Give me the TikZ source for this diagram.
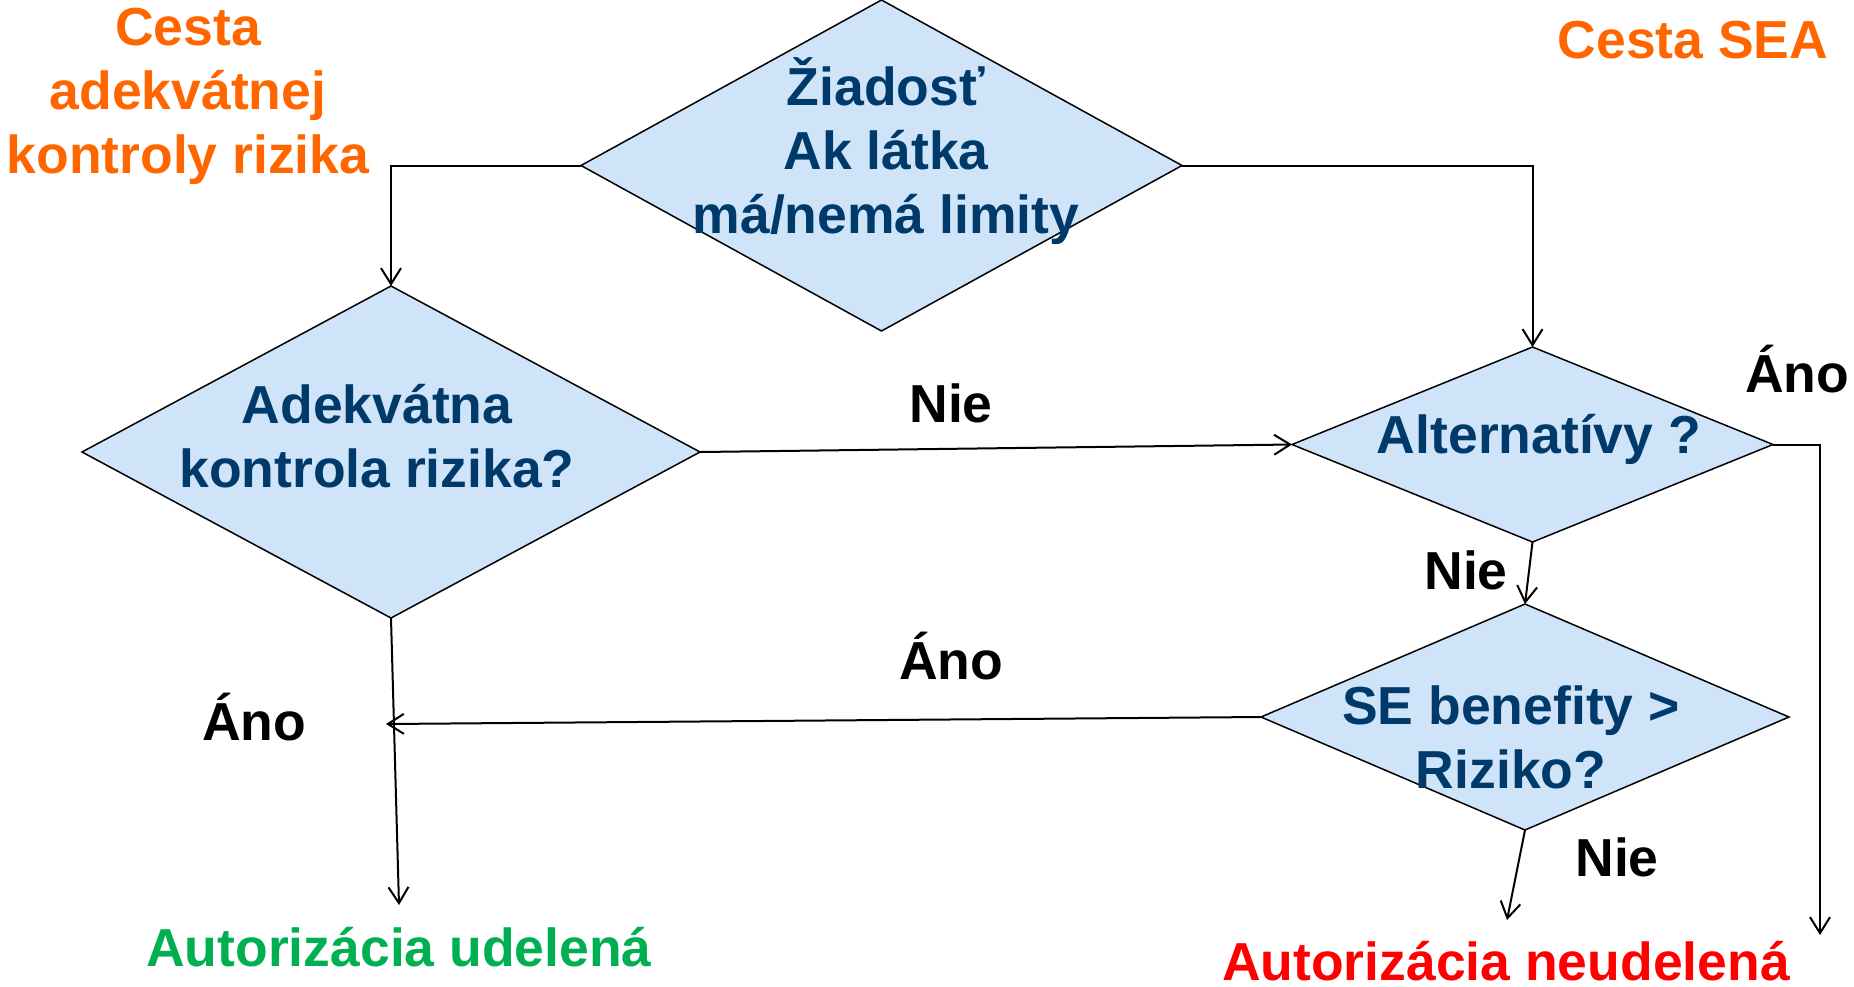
\documentclass[tikz,border=0pt]{standalone}
\usepackage{fontspec}
\setmainfont{Liberation Sans}
\usetikzlibrary{shapes.geometric,arrows.meta}
\definecolor{diafill}{RGB}{207,228,248}
\definecolor{navy}{RGB}{0,58,107}
\definecolor{orng}{RGB}{255,102,0}
\definecolor{grn}{RGB}{0,176,80}
\definecolor{rd}{RGB}{255,0,0}
\begin{document}
\begin{tikzpicture}[x=1pt,y=-1pt,
  dia/.style={shape=diamond, draw=black, line width=1.5pt, fill=diafill, inner sep=0pt, outer sep=0pt},
  big/.style={font=\bfseries\fontsize{53.5}{64}\selectfont, inner sep=0pt, anchor=base, align=center},
  dtext/.style={big, text=navy},
  lbl/.style={big, text=black},
  arr/.style={line width=2pt, -{Straight Barb[length=16pt,width=20pt]}}]
\useasboundingbox (0,0) rectangle (1854,986);
% diamonds
\node[dia, minimum width=601pt, minimum height=331pt] (d0) at (881.5,165.5) {};
\node[dia, minimum width=618pt, minimum height=332pt] (d1) at (391,452) {};
\node[dia, minimum width=481pt, minimum height=195pt] (d2) at (1532.5,444.5) {};
\node[dia, minimum width=528pt, minimum height=226pt] (d3) at (1525,717) {};
% diamond texts (anchor = baseline of last line)
\node[dtext] (t0) at (886,233) {Žiadosť\\Ak látka\\má/nemá limity};
\node[dtext] (t1) at (377,487) {Adekvátna\\kontrola rizika?};
\node[dtext] (t2) at (1539,453) {Alternatívy ?};
\node[dtext] (t3) at (1511,788) {SE benefity >\\Riziko?};
% titles
\node[big, text=orng] (c1) at (188,173) {Cesta\\adekvátnej\\kontroly rizika};
\node[big, text=orng] (c2) at (1693,58) {Cesta SEA};
\node[big, text=grn] (r1) at (399,966) {Autorizácia udelená};
\node[big, text=rd] (r2) at (1506,980) {Autorizácia neudelená};
% end points
\coordinate (e1) at (399,905);
\coordinate (e2) at (1820,935);
\coordinate (e3) at (1507,920);
\coordinate (j1) at (386,724);
% connectors
\draw[arr] (d0.west) -| (d1.north);
\draw[arr] (d0.east) -| (d2.north);
\draw[arr] (d1.east) -- (d2.west);
\draw[arr] (d2.south) -- (d3.north);
\draw[arr] (d2.east) -| (e2);
\draw[arr] (d1.south) -- (e1);
\draw[arr] (d3.west) -- (j1);
\draw[arr] (d3.south) -- (e3);
% labels
\node[lbl] (l1) at (951,422) {Nie};
\node[lbl] (l2) at (1797,392) {Áno};
\node[lbl] (l3) at (1466,589) {Nie};
\node[lbl] (l4) at (951,679) {Áno};
\node[lbl] (l5) at (254,740) {Áno};
\node[lbl] (l6) at (1617,876) {Nie};
\end{tikzpicture}
\end{document}
